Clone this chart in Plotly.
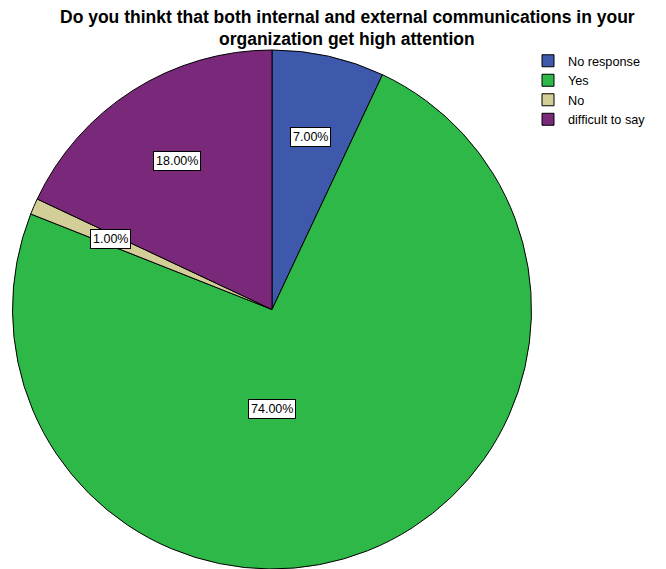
import math
import plotly.graph_objects as go

categories = ["No response", "Yes", "No", "difficult to say"]
percents = [7.0, 74.0, 1.0, 18.0]
colors = ["#3e58ac", "#2eb848", "#d3ce97", "#7a287a"]

title_lines = [
    "Do you thinkt that both internal and external communications in your",
    "organization get high attention",
]

W, H = 666, 569
dom_x = [12 / W, 532 / W]
dom_y = [0.0, (H - 50) / H]
FONT = "Liberation Sans, Arial, sans-serif"

fig = go.Figure()
fig.add_trace(go.Pie(
    labels=categories,
    values=percents,
    sort=False,
    direction="clockwise",
    rotation=0,
    marker=dict(colors=colors, line=dict(color="#000000", width=1)),
    textinfo="none",
    hoverinfo="label+percent",
    domain=dict(x=dom_x, y=dom_y),
))

# label annotations computed from the data (mid-angle of each slice)
cx = (dom_x[0] + dom_x[1]) / 2
cy = (dom_y[0] + dom_y[1]) / 2
r_px = min((dom_x[1] - dom_x[0]) * W, (dom_y[1] - dom_y[0]) * H) / 2
total = sum(percents)
cum = 0.0
for v in percents:
    frac = v / total
    mid = (cum + frac / 2) * 2 * math.pi
    cum += frac
    if frac >= 0.5:
        dx, dy = 0.0, -0.385 * r_px
    else:
        rf = 0.68
        dx = math.sin(mid) * rf * r_px
        dy = math.cos(mid) * rf * r_px
    fig.add_annotation(
        x=cx + dx / W, y=cy + dy / H, xref="paper", yref="paper",
        xanchor="center", yanchor="middle",
        text=f"{v:.2f}%", showarrow=False,
        font=dict(family=FONT, size=12.5, color="#000000"),
        bgcolor="#ffffff", bordercolor="#000000", borderwidth=1, borderpad=2,
    )

# title (two lines, tight line spacing as in the reference)
split_y = 1 - 28 / H
for i, line in enumerate(title_lines):
    fig.add_annotation(
        x=347 / W, y=split_y, xref="paper", yref="paper",
        xanchor="center", yanchor="bottom" if i == 0 else "top",
        text=line, showarrow=False, borderpad=0,
        font=dict(family=FONT, size=17.5, color="#000000", weight="bold"),
    )

fig.update_layout(
    width=W, height=H,
    margin=dict(l=0, r=0, t=0, b=0),
    paper_bgcolor="#ffffff",
    showlegend=True,
    legend=dict(
        x=528 / W, y=1 - 46 / H, xanchor="left", yanchor="top",
        font=dict(family=FONT, size=12.7, color="#000000"),
        bgcolor="rgba(0,0,0,0)", itemwidth=30, tracegroupgap=0,
    ),
)

fig.write_html(
    "out.html",
    config={"displayModeBar": False},
    post_script="document.body.style.margin='0';",
)
